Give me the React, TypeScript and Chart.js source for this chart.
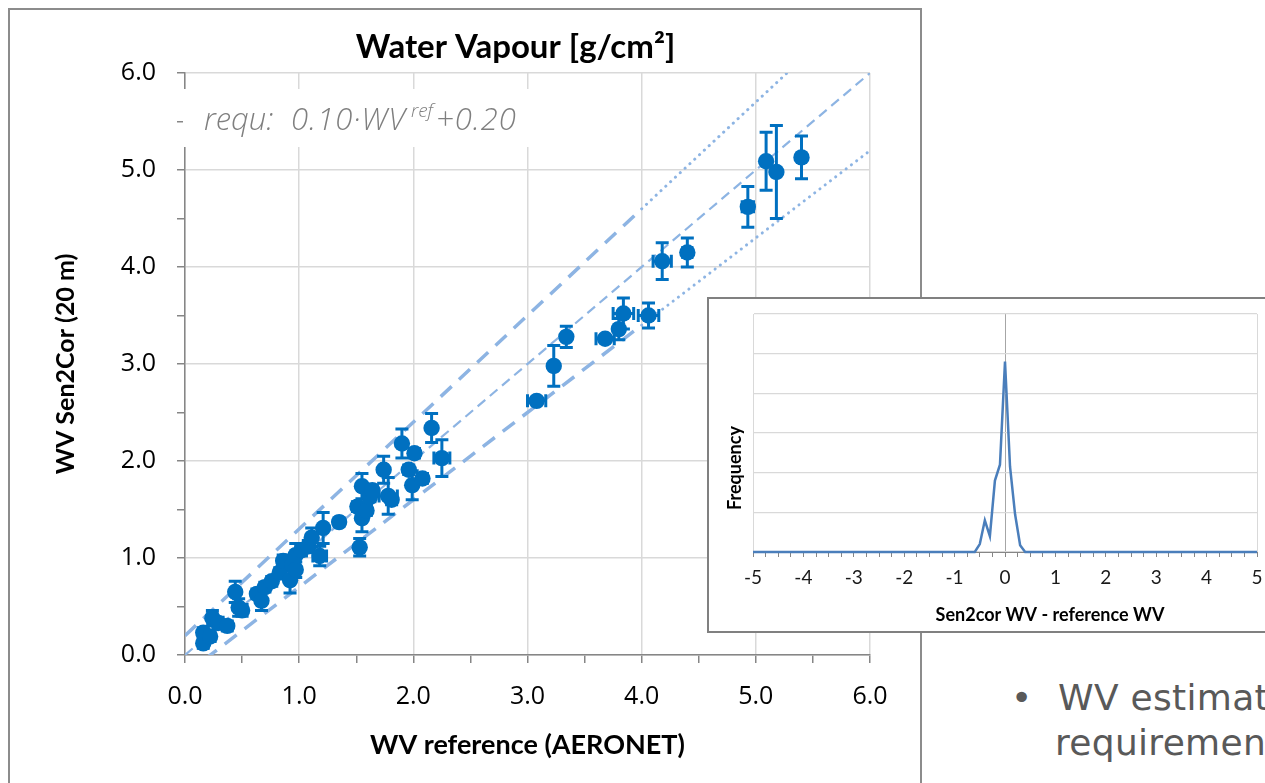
import React, { useEffect, useRef } from 'react';
import { Chart, registerables } from 'chart.js';
Chart.register(...registerables);

// ---------- data: main scatter ----------
const WV_REFERENCE = [0.16, 0.16, 0.22, 0.24, 0.29, 0.37, 0.44, 0.47, 0.50, 0.63, 0.67, 0.70, 0.76, 0.83, 0.86, 0.92, 0.94, 0.97, 0.97, 1.02, 1.08, 1.11, 1.18, 1.21, 1.35, 1.51, 1.53, 1.55, 1.55, 1.59, 1.62, 1.64, 1.74, 1.78, 1.81, 1.90, 1.96, 1.99, 2.01, 2.08, 2.16, 2.25, 3.08, 3.23, 3.34, 3.68, 3.80, 3.84, 4.06, 4.18, 4.40, 4.93, 5.09, 5.18, 5.40];
const WV_SEN2COR = [0.12, 0.23, 0.19, 0.38, 0.33, 0.30, 0.65, 0.49, 0.46, 0.63, 0.56, 0.70, 0.76, 0.85, 0.97, 0.77, 0.93, 0.88, 1.03, 1.08, 1.12, 1.21, 1.02, 1.31, 1.37, 1.53, 1.11, 1.41, 1.74, 1.49, 1.63, 1.70, 1.91, 1.64, 1.60, 2.18, 1.91, 1.75, 2.08, 1.82, 2.34, 2.03, 2.62, 2.98, 3.28, 3.26, 3.36, 3.52, 3.50, 4.06, 4.15, 4.62, 5.09, 4.98, 5.13];
const ERR_REFERENCE = [0.03, 0.03, 0.03, 0.04, 0.04, 0.04, 0.03, 0.03, 0.03, 0.03, 0.03, 0.03, 0.03, 0.03, 0.03, 0.03, 0.03, 0.03, 0.03, 0.03, 0.03, 0.03, 0.06, 0.03, 0.03, 0.03, 0.03, 0.03, 0.03, 0.03, 0.03, 0.03, 0.03, 0.08, 0.03, 0.03, 0.03, 0.03, 0.03, 0.03, 0.03, 0.07, 0.08, 0.03, 0.03, 0.08, 0.03, 0.09, 0.09, 0.08, 0.04, 0.05, 0.03, 0.03, 0.03];
const ERR_SEN2COR = [0.05, 0.05, 0.05, 0.08, 0.06, 0.05, 0.11, 0.09, 0.06, 0.05, 0.10, 0.05, 0.05, 0.05, 0.06, 0.13, 0.06, 0.08, 0.12, 0.06, 0.06, 0.10, 0.10, 0.16, 0.04, 0.05, 0.09, 0.14, 0.13, 0.05, 0.05, 0.05, 0.14, 0.19, 0.05, 0.15, 0.05, 0.15, 0.05, 0.05, 0.15, 0.19, 0.03, 0.21, 0.11, 0.03, 0.11, 0.16, 0.13, 0.19, 0.15, 0.21, 0.30, 0.48, 0.22];

// requirement: |WV_s2c - WV_ref| <= 0.10 * WV_ref + 0.20
const REQ_SLOPE = 0.10;
const REQ_OFFSET = 0.20;
const REQ_SPLIT = 4.0; // dashed below, dotted above
const AXIS_MIN = 0;
const AXIS_MAX = 6;
const MAIN_TICK_LABELS = ['0.0', '1.0', '2.0', '3.0', '4.0', '5.0', '6.0'];

// ---------- data: inset histogram ----------
const HIST_DIFF = [-5, -0.6, -0.5, -0.4, -0.3, -0.2, -0.1, 0, 0.1, 0.2, 0.3, 0.4, 5];
const HIST_FREQ = [0, 0, 0.2, 0.8, 0.4, 1.8, 2.2, 4.8, 2.15, 0.95, 0.17, 0, 0];
const INSET_TICK_LABELS = ['-5', '-4', '-3', '-2', '-1', '0', '1', '2', '3', '4', '5'];

const BLUE = '#0070c0';
const LINE_BLUE = '#8db4e3';
const NUM_FONT = '"Open Sans", sans-serif';
const TITLE_FONT = 'Lato, sans-serif';

const req = (x: number, sign: number) => x + sign * (REQ_SLOPE * x + REQ_OFFSET);

const errorBars = {
  id: 'errorBars',
  beforeDatasetDraw(chart: any, args: any) {
    if (args.index !== 0) return;
    const { ctx, scales } = chart;
    const xs = scales.x, ys = scales.y;
    const cap = 6.5;
    ctx.save();
    ctx.strokeStyle = BLUE;
    ctx.lineWidth = 3;
    WV_REFERENCE.forEach((vx, i) => {
      const vy = WV_SEN2COR[i];
      const cx = xs.getPixelForValue(vx);
      const cy = ys.getPixelForValue(vy);
      const x0 = xs.getPixelForValue(vx - ERR_REFERENCE[i]);
      const x1 = xs.getPixelForValue(vx + ERR_REFERENCE[i]);
      const y0 = ys.getPixelForValue(vy - ERR_SEN2COR[i]);
      const y1 = ys.getPixelForValue(vy + ERR_SEN2COR[i]);
      ctx.beginPath();
      ctx.moveTo(cx, y0); ctx.lineTo(cx, y1);
      ctx.moveTo(cx - cap, y0); ctx.lineTo(cx + cap, y0);
      ctx.moveTo(cx - cap, y1); ctx.lineTo(cx + cap, y1);
      ctx.moveTo(x0, cy); ctx.lineTo(x1, cy);
      ctx.moveTo(x0, cy - cap); ctx.lineTo(x0, cy + cap);
      ctx.moveTo(x1, cy - cap); ctx.lineTo(x1, cy + cap);
      ctx.stroke();
    });
    ctx.restore();
  },
};

const mainDecor = {
  id: 'mainDecor',
  beforeDatasetsDraw(chart: any) {
    const { ctx, chartArea } = chart;
    const L = chartArea.left;
    ctx.save();
    // white label box over the grid
    ctx.fillStyle = '#ffffff';
    ctx.fillRect(L - 2, chartArea.top + 16, 378, 58);
    ctx.fillStyle = '#7f7f7f';
    ctx.textBaseline = 'alphabetic';
    ctx.textAlign = 'left';
    const base = chartArea.top + 57;
    const big = 'italic 300 31px "Open Sans", sans-serif';
    const small = 'italic 300 19px "Open Sans", sans-serif';
    ctx.font = big;
    ctx.fillText('requ:', L + 19, base);
    (ctx as any).letterSpacing = '1px';
    const main = '0.10\u00B7WV';
    ctx.fillText(main, L + 106, base);
    let xPos = L + 106 + ctx.measureText(main).width + 5;
    (ctx as any).letterSpacing = '0px';
    ctx.font = small;
    ctx.fillText('ref', xPos, base - 13);
    xPos += ctx.measureText('ref').width + 3;
    ctx.font = big;
    (ctx as any).letterSpacing = '1px';
    ctx.fillText('+0.20', xPos, base);
    ctx.restore();
  },
  afterDraw(chart: any) {
    const { ctx, chartArea } = chart;
    ctx.save();
    ctx.fillStyle = '#000000';
    ctx.font = 'bold 33px Lato, sans-serif';
    ctx.textAlign = 'center';
    ctx.textBaseline = 'alphabetic';
    ctx.fillText('Water Vapour [g/cm\u00B2]', (chartArea.left + chartArea.right) / 2 - 12, chartArea.top - 15);
    ctx.restore();
  },
};

const insetDecor = {
  id: 'insetDecor',
  afterDraw(chart: any) {
    const { ctx, chartArea } = chart;
    ctx.save();
    ctx.fillStyle = '#000000';
    ctx.font = 'bold 18px Lato, sans-serif';
    ctx.textAlign = 'center';
    ctx.textBaseline = 'middle';
    ctx.fillText('Sen2cor WV - reference WV', (chartArea.left + chartArea.right) / 2 + 45, chartArea.bottom + 63);
    ctx.translate(chartArea.left - 18, (chartArea.top + chartArea.bottom) / 2 + 35);
    ctx.rotate(-Math.PI / 2);
    ctx.fillText('Frequency', 0, 0);
    ctx.restore();
  },
};

export default function App() {
  const mainRef = useRef<HTMLCanvasElement>(null);
  const insetRef = useRef<HTMLCanvasElement>(null);

  useEffect(() => {
    document.body.style.overflow = 'hidden';
    const lineDs = (data: any[], width: number, dash: number[], cap: string = 'butt') => ({
      data,
      showLine: true,
      borderColor: LINE_BLUE,
      backgroundColor: LINE_BLUE,
      borderWidth: width,
      borderDash: dash,
      borderCapStyle: cap,
      pointRadius: 0,
      pointHoverRadius: 0,
      fill: false,
      order: 2,
    });
    const intTickGrid = (color: string) => (c: any) =>
      c.tick && Number.isInteger(c.tick.value) ? color : 'rgba(0,0,0,0)';

    const main = new Chart(mainRef.current!, {
      type: 'scatter',
      data: {
        datasets: [
          {
            data: WV_REFERENCE.map((x, i) => ({ x, y: WV_SEN2COR[i] })),
            backgroundColor: BLUE,
            borderColor: BLUE,
            borderWidth: 0,
            pointRadius: 8.2,
            pointHoverRadius: 8.2,
            order: 0,
          } as any,
          lineDs([{ x: AXIS_MIN, y: AXIS_MIN }, { x: AXIS_MAX, y: AXIS_MAX }], 2.2, [10, 6]),
          lineDs([{ x: AXIS_MIN, y: req(AXIS_MIN, 1) }, { x: REQ_SPLIT, y: req(REQ_SPLIT, 1) }], 3.5, [15, 10]),
          lineDs([{ x: REQ_SPLIT, y: req(REQ_SPLIT, 1) }, { x: AXIS_MAX, y: req(AXIS_MAX, 1) }], 3, [0.1, 6.5], 'round'),
          lineDs([{ x: AXIS_MIN, y: req(AXIS_MIN, -1) }, { x: REQ_SPLIT, y: req(REQ_SPLIT, -1) }], 3.5, [15, 10]),
          lineDs([{ x: REQ_SPLIT, y: req(REQ_SPLIT, -1) }, { x: AXIS_MAX, y: req(AXIS_MAX, -1) }], 3, [0.1, 6.5], 'round'),
        ] as any,
      },
      options: {
        animation: false,
        responsive: false,
        events: [],
        layout: { padding: { top: 73, right: 50, left: 0, bottom: 0 } },
        plugins: { legend: { display: false }, tooltip: { enabled: false }, title: { display: false } },
        scales: {
          x: {
            type: 'linear',
            min: AXIS_MIN,
            max: AXIS_MAX,
            afterFit: (s: any) => { s.height = 128; },
            ticks: {
              stepSize: 0.5,
              autoSkip: false,
              maxRotation: 0,
              padding: 19,
              color: '#000',
              font: { family: NUM_FONT, size: 25 },
              callback: (v: any) => (Number.isInteger(v) ? MAIN_TICK_LABELS[v] : ''),
            },
            grid: { color: intTickGrid('#d9d9d9'), lineWidth: 1.5, tickColor: '#868686', tickLength: 8 },
            border: { color: '#868686', width: 1.5 },
            title: {
              display: true,
              text: 'WV reference (AERONET)',
              color: '#000',
              font: { family: TITLE_FONT, size: 27, weight: 'bold', lineHeight: 1.2 },
              padding: { top: 0, bottom: 22 },
            },
          },
          y: {
            type: 'linear',
            min: AXIS_MIN,
            max: AXIS_MAX,
            afterFit: (s: any) => { s.width = 185; },
            ticks: {
              stepSize: 0.5,
              autoSkip: false,
              padding: 21,
              color: '#000',
              font: { family: NUM_FONT, size: 25 },
              callback: (v: any) => (Number.isInteger(v) ? MAIN_TICK_LABELS[v] : ''),
            },
            grid: { color: intTickGrid('#d9d9d9'), lineWidth: 1.5, tickColor: '#868686', tickLength: 8 },
            border: { color: '#868686', width: 1.5 },
            title: {
              display: true,
              text: 'WV Sen2Cor (20 m)',
              color: '#000',
              font: { family: TITLE_FONT, size: 25, weight: 'bold', lineHeight: 1.2 },
              padding: { top: 51, bottom: 0 },
            },
          },
        },
      } as any,
      plugins: [errorBars, mainDecor],
    });

    const inset = new Chart(insetRef.current!, {
      type: 'scatter',
      data: {
        datasets: [
          {
            data: HIST_DIFF.map((x, i) => ({ x, y: HIST_FREQ[i] })),
            showLine: true,
            borderColor: '#4a7ebb',
            borderWidth: 2.5,
            pointRadius: 0,
            pointHoverRadius: 0,
            tension: 0,
            fill: false,
            clip: false,
          } as any,
        ],
      },
      options: {
        animation: false,
        responsive: false,
        events: [],
        layout: { padding: { top: 15, right: 48, left: 0, bottom: 0 } },
        plugins: { legend: { display: false }, tooltip: { enabled: false } },
        scales: {
          x: {
            type: 'linear',
            min: -5,
            max: 5,
            afterFit: (s: any) => { s.height = 79; },
            ticks: {
              stepSize: 0.25,
              autoSkip: false,
              maxRotation: 0,
              padding: 9,
              color: '#1a1a1a',
              font: { family: TITLE_FONT, size: 19 },
              callback: (v: any) => (Number.isInteger(v) ? INSET_TICK_LABELS[v + 5] : ''),
            },
            grid: {
              color: (c: any) => (c.tick && c.tick.value === 0 ? '#a6a6a6' : c.tick && Math.abs(c.tick.value) === 5 ? '#d9d9d9' : 'rgba(0,0,0,0)'),
              lineWidth: 1,
              tickColor: '#868686',
              tickLength: 5,
            },
            border: { color: '#868686', width: 1 },
          },
          y: {
            type: 'linear',
            min: 0,
            max: 6,
            afterFit: (s: any) => { s.width = 44; },
            ticks: { display: false, stepSize: 1 },
            grid: { color: '#d9d9d9', lineWidth: 1.2, drawTicks: false },
            border: { color: '#d9d9d9', width: 1 },
          },
        },
      } as any,
      plugins: [insetDecor],
    });

    return () => {
      main.destroy();
      inset.destroy();
    };
  }, []);

  return (
    <div style={{ position: 'absolute', left: 0, top: 0, width: 1265, height: 783, overflow: 'hidden', background: '#fff' }}>
      <div style={{ position: 'absolute', left: 8, top: 8, width: 914, height: 900, border: '2px solid #8c8c8c', boxSizing: 'border-box' }} />
      <canvas ref={mainRef} width={920} height={783} style={{ position: 'absolute', left: 0, top: 0, width: 920, height: 783 }} />
      <div style={{ position: 'absolute', left: 707, top: 297, width: 600, height: 336, border: '2px solid #808080', boxSizing: 'border-box', background: '#fff' }}>
        <canvas ref={insetRef} width={596} height={332} style={{ position: 'absolute', left: 0, top: 0, width: 596, height: 332 }} />
      </div>
      <div style={{ position: 'absolute', left: 1011, top: 675, fontFamily: '"DejaVu Sans", sans-serif', fontSize: 36, lineHeight: '45px', color: '#595959', whiteSpace: 'nowrap', letterSpacing: 0.3 }}>
        <span style={{ position: 'absolute', left: 0, top: 0 }}>{'\u2022'}</span>
        <div style={{ position: 'absolute', left: 47, top: 0 }}>WV estimates fulfil the</div>
        <div style={{ position: 'absolute', left: 44, top: 45 }}>requirements</div>
      </div>
    </div>
  );
}
